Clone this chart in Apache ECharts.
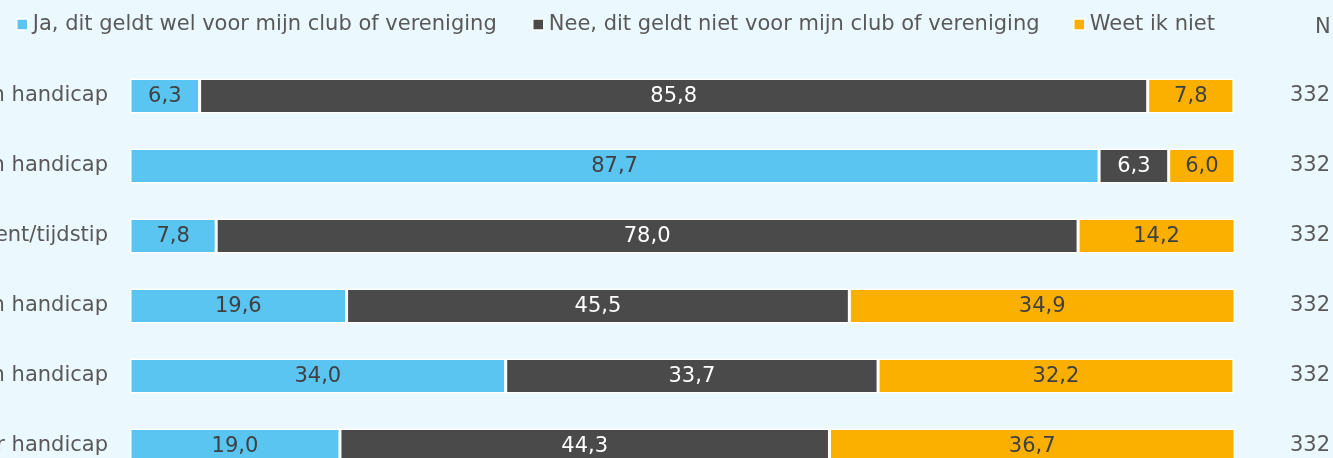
<!DOCTYPE html>
<html>
<head>
<meta charset="utf-8">
<script src="https://cdn.jsdelivr.net/npm/echarts@6/dist/echarts.min.js"></script>
<style>
  html, body { margin: 0; padding: 0; background: #EBF8FE; }
  #chart { width: 1333px; height: 458px; }
</style>
</head>
<body>
<div id="chart"></div>
<script>
// Statements (row labels), top to bottom
const categories = ['n handicap', 'n handicap', 'ent/tijdstip', 'n handicap', 'n handicap', 'r handicap'];
// Answer shares in percent
const jaValues = [6.3, 87.7, 7.8, 19.6, 34.0, 19.0];
const neeValues = [85.8, 6.3, 78.0, 45.5, 33.7, 44.3];
const weetValues = [7.8, 6.0, 14.2, 34.9, 32.2, 36.7];
// Number of respondents per row
const nValues = ['332', '332', '332', '332', '332', '332'];
const seriesNames = [
  'Ja, dit geldt wel voor mijn club of vereniging',
  'Nee, dit geldt niet voor mijn club of vereniging',
  'Weet ik niet'
];

const FONT = 'DejaVu Sans';
const FS = 21;
const TEXT = '#595959';
const colors = ['#5BC5F2', '#4A4A4A', '#FBB000'];
const labelColors = ['#404040', '#FFFFFF', '#404040'];
const legendLefts = [11, 527, 1068];

const fmt = p => p.value.toFixed(1).replace('.', ',');

function barSeries(name, data, i) {
  return {
    name: name,
    type: 'bar',
    stack: 'total',
    data: data,
    barWidth: 35,
    itemStyle: { color: colors[i], borderColor: '#FFFFFF', borderWidth: 1.5 },
    label: {
      show: true,
      position: 'inside',
      offset: [0, 1],
      formatter: fmt,
      color: labelColors[i],
      fontFamily: FONT,
      fontSize: FS
    },
    emphasis: { disabled: true }
  };
}

// one legend block per answer, so each entry sits at its own spot
const legends = seriesNames.map((name, i) => ({
  left: legendLefts[i],
  top: 9,
  icon: 'rect',
  itemWidth: 11,
  itemHeight: 11,
  itemStyle: { borderColor: '#FFFFFF', borderWidth: 1.5 },
  textStyle: { color: TEXT, fontFamily: FONT, fontSize: FS },
  selectedMode: false,
  data: [name]
}));

const chart = echarts.init(document.getElementById('chart'), null, { renderer: 'canvas' });
chart.setOption({
  backgroundColor: '#EBF8FE',
  animation: false,
  color: colors,
  legend: legends,
  graphic: [{
    type: 'text',
    left: 1315,
    top: 17,
    style: { text: 'N', fill: TEXT, font: FS + 'px "DejaVu Sans"' }
  }],
  grid: {
    left: 130, top: 61, width: 1105, height: 420,
    containLabel: false, outerBoundsMode: 'none'
  },
  xAxis: {
    type: 'value',
    min: 0,
    max: 100,
    show: false
  },
  yAxis: [{
    type: 'category',
    data: categories,
    inverse: true,
    axisLine: { show: false },
    axisTick: { show: false },
    axisLabel: { color: TEXT, fontFamily: FONT, fontSize: FS, margin: 22 }
  }, {
    type: 'category',
    data: nValues,
    inverse: true,
    position: 'right',
    axisLine: { show: false },
    axisTick: { show: false },
    axisLabel: { color: TEXT, fontFamily: FONT, fontSize: FS, margin: 55 }
  }],
  series: [
    barSeries(seriesNames[0], jaValues, 0),
    barSeries(seriesNames[1], neeValues, 1),
    barSeries(seriesNames[2], weetValues, 2)
  ]
});
</script>
</body>
</html>
